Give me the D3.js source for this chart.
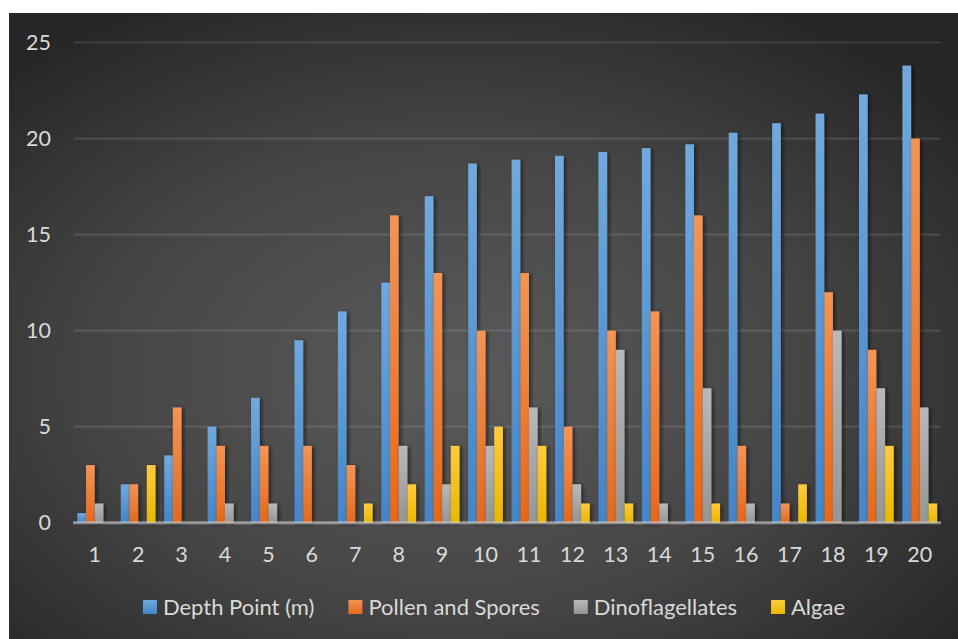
<!DOCTYPE html>
<html>
<head>
<meta charset="utf-8">
<script src="https://cdn.jsdelivr.net/npm/d3@7/dist/d3.min.js"></script>
<style>
  html, body { margin: 0; padding: 0; background: #ffffff; }
  svg { display: block; }
  text { font-family: Lato, "Open Sans", sans-serif; fill: #d9d9d9; }
</style>
</head>
<body>
<svg id="chart" width="958" height="639"></svg>
<script>
// Depth points along the core
const categories = ["1","2","3","4","5","6","7","8","9","10","11","12","13","14","15","16","17","18","19","20"];
const seriesNames = ["Depth Point (m)", "Pollen and Spores", "Dinoflagellates", "Algae"];

const depthPoint = [0.5, 2, 3.5, 5, 6.5, 9.5, 11, 12.5, 17, 18.7, 18.9, 19.1, 19.3, 19.5, 19.7, 20.3, 20.8, 21.3, 22.3, 23.8];
const pollenSpores = [3, 2, 6, 4, 4, 4, 3, 16, 13, 10, 13, 5, 10, 11, 16, 4, 1, 12, 9, 20];
const dinoflagellates = [1, 0, 0, 1, 1, 0, 0, 4, 2, 4, 6, 2, 9, 1, 7, 1, 0, 10, 7, 6];
const algae = [0, 3, 0, 0, 0, 0, 1, 2, 4, 5, 4, 1, 1, 0, 1, 0, 2, 0, 4, 1];

const yTicks = [0, 5, 10, 15, 20, 25];

const seriesValues = [depthPoint, pollenSpores, dinoflagellates, algae];
const seriesColors = [
  { top: "#70a9dd", bottom: "#4485c7" },
  { top: "#f39457", bottom: "#e4691b" },
  { top: "#b9b9b9", bottom: "#959595" },
  { top: "#ffcb3d", bottom: "#e8b700" }
];

const svg = d3.select("#chart");
const defs = svg.append("defs");

// Dark chart area with a soft radial highlight
const bg = defs.append("radialGradient").attr("id", "bg")
  .attr("cx", "47%").attr("cy", "58%").attr("r", "68%");
bg.append("stop").attr("offset", "0%").attr("stop-color", "#5b5b5b");
bg.append("stop").attr("offset", "55%").attr("stop-color", "#454545");
bg.append("stop").attr("offset", "100%").attr("stop-color", "#262626");

seriesColors.forEach((c, i) => {
  const g = defs.append("linearGradient").attr("id", "fill" + i)
    .attr("x1", 0).attr("y1", 0).attr("x2", 0).attr("y2", 1);
  g.append("stop").attr("offset", "0%").attr("stop-color", c.top);
  g.append("stop").attr("offset", "100%").attr("stop-color", c.bottom);
});

const shadow = defs.append("filter").attr("id", "shadow")
  .attr("x", "-50%").attr("y", "-10%").attr("width", "200%").attr("height", "120%");
shadow.append("feDropShadow").attr("dx", 2).attr("dy", 1).attr("stdDeviation", 2.2)
  .attr("flood-color", "#000").attr("flood-opacity", 0.55);

svg.append("rect")
  .attr("x", 9).attr("y", 13).attr("width", 949).attr("height", 626)
  .attr("fill", "url(#bg)");

const x0 = d3.scaleBand().domain(categories).range([73, 941.5]).paddingInner(0).paddingOuter(0);
const x1 = d3.scaleBand().domain(d3.range(seriesNames.length))
  .range([0, x0.bandwidth()]).paddingInner(0).paddingOuter(0.5);
const y = d3.scaleLinear().domain([0, 25]).range([522.7, 42.5]);

// Horizontal gridlines
svg.append("g").selectAll("line")
  .data(yTicks.filter(t => t > 0))
  .join("line")
  .attr("x1", 74).attr("x2", 940.7)
  .attr("y1", d => y(d)).attr("y2", d => y(d))
  .attr("stroke", "rgba(255,255,255,0.11)").attr("stroke-width", 2.2);

// Value axis labels
svg.append("g").selectAll("text")
  .data(yTicks)
  .join("text")
  .attr("x", 51).attr("y", d => y(d)).attr("dy", "0.36em")
  .attr("text-anchor", "end").attr("font-size", 21.5)
  .text(d => d);

// Grouped bars
const groups = svg.append("g").selectAll("g")
  .data(categories)
  .join("g")
  .attr("transform", d => `translate(${x0(d)},0)`);

groups.selectAll("rect")
  .data((d, ci) => seriesValues.map((vals, si) => ({ si, v: vals[ci] })))
  .join("rect")
  .filter(d => d.v > 0)
  .attr("x", d => x1(d.si))
  .attr("width", x1.bandwidth())
  .attr("y", d => y(d.v))
  .attr("height", d => y(0) - y(d.v))
  .attr("fill", d => `url(#fill${d.si})`)
  .attr("filter", "url(#shadow)");

// Category axis line
svg.append("line")
  .attr("x1", 73).attr("x2", 941)
  .attr("y1", y(0)).attr("y2", y(0))
  .attr("stroke", "rgba(220,220,220,0.55)").attr("stroke-width", 3);

// Category labels
svg.append("g").selectAll("text")
  .data(categories)
  .join("text")
  .attr("x", d => x0(d) + x0.bandwidth() / 2)
  .attr("y", 554).attr("dy", "0.36em")
  .attr("text-anchor", "middle").attr("font-size", 21.5)
  .text(d => d);

// Legend
const legend = svg.append("g");
const items = legend.selectAll("g")
  .data(seriesNames)
  .join("g");
items.append("rect")
  .attr("width", 14).attr("height", 14).attr("y", 600)
  .attr("fill", (d, i) => `url(#fill${i})`);
items.append("text")
  .attr("x", 20).attr("y", 607).attr("dy", "0.36em")
  .attr("font-size", 22)
  .text(d => d);

const widths = items.nodes().map(n => 20 + n.querySelector("text").getComputedTextLength());
const gap = 34;
const total = d3.sum(widths) + gap * (widths.length - 1);
let cursor = 494 - total / 2;
items.attr("transform", (d, i) => {
  const t = `translate(${cursor},0)`;
  cursor += widths[i] + gap;
  return t;
});
</script>
</body>
</html>
